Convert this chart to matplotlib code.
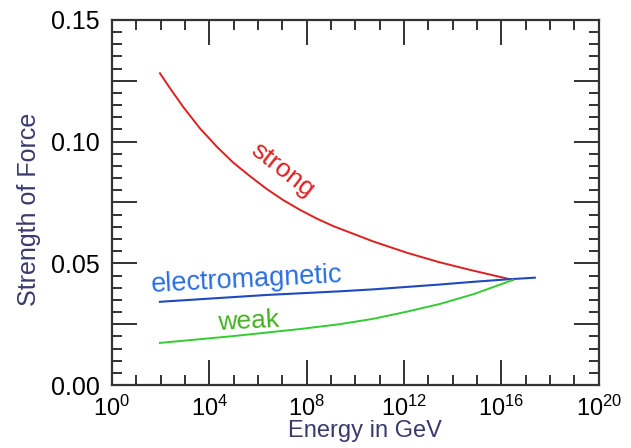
import numpy as np
import matplotlib
matplotlib.use("Agg")
import matplotlib.pyplot as plt
from matplotlib.ticker import MultipleLocator, FixedLocator, FuncFormatter

plt.rcParams['font.family'] = ['Liberation Sans', 'DejaVu Sans']
plt.rcParams['mathtext.fontset'] = 'custom'
plt.rcParams['mathtext.rm'] = 'Liberation Sans'
plt.rcParams['mathtext.it'] = 'Liberation Sans'

# readings from the picture: log10(E / GeV) and coupling strength
strong_logE = [1.97, 2.38, 2.93, 3.61, 4.30, 4.98, 5.67, 6.35, 7.03, 7.72, 8.41,
               9.09, 10.73, 12.10, 13.47, 14.84, 16.21, 16.48]
strong_val = [0.1281, 0.1220, 0.1142, 0.1055, 0.0980, 0.0914, 0.0858, 0.0806, 0.0760,
              0.0720, 0.0684, 0.0653, 0.0590, 0.0544, 0.0504, 0.0470, 0.0438, 0.0432]

em_logE = [1.97, 6.35, 9.36, 10.73, 12.10, 13.47, 14.84, 16.21, 17.37]
em_val = [0.0342, 0.0370, 0.0385, 0.0393, 0.0403, 0.0413, 0.0424, 0.0434, 0.0441]

weak_logE = [1.97, 4.98, 7.72, 9.36, 10.73, 12.10, 13.47, 14.84, 15.93, 16.48]
weak_val = [0.0173, 0.0201, 0.0230, 0.0250, 0.0272, 0.0301, 0.0333, 0.0373, 0.0412, 0.0432]

xtick_exps = [0, 4, 8, 12, 16, 20]

fig = plt.figure(figsize=(6.31, 4.48), dpi=100)
ax = fig.add_axes([0.1775, 0.1406, 0.7715, 0.8148])

ax.plot(10.0 ** np.array(strong_logE), strong_val, color='#dd2020', lw=1.4)
ax.plot(10.0 ** np.array(em_logE), em_val, color='#2048c0', lw=1.5)
ax.plot(10.0 ** np.array(weak_logE), weak_val, color='#33cc33', lw=1.4)

ax.set_xscale('log')
ax.set_xlim(1, 1e20)
ax.set_ylim(0, 0.15)

ax.xaxis.set_major_locator(FixedLocator([10.0 ** e for e in xtick_exps]))
ax.xaxis.set_minor_locator(FixedLocator([10.0 ** e for e in range(21) if e % 4]))
ax.xaxis.set_major_formatter(FuncFormatter(lambda v, p: r'$10^{%d}$' % round(np.log10(v))))
ax.xaxis.set_minor_formatter(FuncFormatter(lambda v, p: ''))

ax.yaxis.set_major_locator(MultipleLocator(0.025))
ax.yaxis.set_minor_locator(MultipleLocator(0.005))
ax.yaxis.set_major_formatter(FuncFormatter(
    lambda v, p: '%.2f' % v if abs(round(v / 0.05) * 0.05 - v) < 1e-6 else ''))

ax.tick_params(which='both', direction='in', top=True, right=True, color='#222222')
ax.tick_params(which='major', length=18, width=1.3, labelsize=18)
ax.tick_params(which='minor', length=7, width=1.3)
ax.tick_params(axis='y', which='major', pad=9)
ax.tick_params(axis='x', which='major', labelsize=17, pad=8)
for s in ax.spines.values():
    s.set_linewidth(1.6)
    s.set_color('#333333')

ax.set_xlabel('Energy in GeV', fontsize=17, color='#3a3a6e')
ax.set_ylabel('Strength of Force', fontsize=18, color='#3a3a6e')
ax.xaxis.set_label_coords(0.52, -0.095)
ax.yaxis.set_label_coords(-0.145, 0.48)

ax.text(10 ** 7.0, 0.0885, 'strong', color='#e02020', fontsize=19,
        rotation=-38, ha='center', va='center')
ax.text(10 ** 1.6, 0.0432, 'electromagnetic', color='#2a6ee0', fontsize=19.5,
        rotation=3, ha='left', va='center')
ax.text(10 ** 4.3, 0.0262, 'weak', color='#44b022', fontsize=19,
        rotation=3, ha='left', va='center')

fig.savefig('out.png', dpi=100)
